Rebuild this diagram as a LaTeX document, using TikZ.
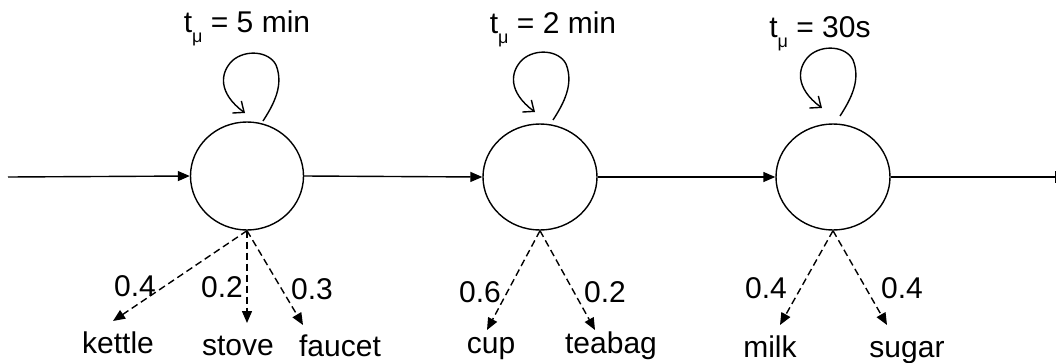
\documentclass[tikz,border=0pt]{standalone}
\usepackage{fontspec}
\setmainfont{Liberation Sans}
\usetikzlibrary{arrows.meta,shapes.geometric}
\newcommand\tmu{t\raisebox{-10pt}{\fontsize{18}{18}\selectfont μ}}
\begin{document}
\begin{tikzpicture}[x=1pt,y=-1pt,
  state/.style={draw,ellipse,line width=1.4pt,inner sep=0pt},
  flow/.style={line width=1.4pt,-{Triangle[length=12pt,width=10pt]}},
  endflow/.style={line width=1.4pt,-{Bar[width=12pt,line width=1.4pt]}},
  prob/.style={line width=1.4pt,dash pattern=on 7pt off 4pt,-{Triangle[length=12pt,width=10pt]}},
  selfloop/.style={line width=1.4pt,-{Straight Barb[length=9pt,width=15pt]}},
  lbl/.style={font=\fontsize{30}{34}\selectfont,inner sep=0pt,anchor=base},
  toplbl/.style={font=\fontsize{30}{34}\selectfont,inner sep=0pt,anchor=base},
]
\useasboundingbox (0,0) rectangle (1057,362);
% states
\node[state,minimum width=113pt,minimum height=108pt] (c1) at (247,176) {};
\node[state,minimum width=114pt,minimum height=106pt] (c2) at (540,177) {};
\node[state,minimum width=114pt,minimum height=106pt] (c3) at (833,177) {};
% main flow
\coordinate (in) at (8,177);
\coordinate (out) at (1056,177);
\draw[flow] (in) -- (c1.west);
\draw[flow] (c1.east) -- (c2.west);
\draw[flow] (c2.east) -- (c3.west);
\draw[endflow] (c3.east) -- (out);
% self loops
\coordinate (s1) at (263,121);
\coordinate (s2) at (553,120);
\coordinate (s3) at (840,116);
\foreach \s in {s1,s2,s3}{
  \begin{scope}[shift={(\s)}]
    \draw[selfloop] (0,0) .. controls (11,-17) and (21,-36) .. (13,-56)
      .. controls (6,-70) and (-18,-72) .. (-31,-60)
      .. controls (-43,-48) and (-45,-28) .. (-18,-8);
  \end{scope}
}
% top labels
\node[toplbl] (m1) at (247,32) {\tmu{} = 5 min};
\node[toplbl] (m2) at (553,33) {\tmu{} = 2 min};
\node[toplbl] (m3) at (820,37) {\tmu{} = 30s};
% dashed resource arrows
\coordinate (k1) at (113,321);
\coordinate (k2) at (247,323);
\coordinate (k3) at (303,325);
\draw[prob] (c1.south) -- (k1);
\draw[prob] (c1.south) -- (k2);
\draw[prob] (c1.south) -- (k3);
\coordinate (k4) at (487,330);
\coordinate (k5) at (595,330);
\draw[prob] (c2.south) -- (k4);
\draw[prob] (c2.south) -- (k5);
\coordinate (k6) at (780,325);
\coordinate (k7) at (887,325);
\draw[prob] (c3.south) -- (k6);
\draw[prob] (c3.south) -- (k7);
% probabilities
\node[lbl] (p1) at (135,296) {0.4};
\node[lbl] (p2) at (222,297) {0.2};
\node[lbl] (p3) at (312,299) {0.3};
\node[lbl] (p4) at (480,302) {0.6};
\node[lbl] (p5) at (605,302) {0.2};
\node[lbl] (p6) at (766,298) {0.4};
\node[lbl] (p7) at (902,298) {0.4};
% resources
\node[lbl] (r1) at (118,353) {kettle};
\node[lbl] (r2) at (238,355) {stove};
\node[lbl] (r3) at (340,356) {faucet};
\node[lbl] (r4) at (491,353) {cup};
\node[lbl] (r5) at (611,353) {teabag};
\node[lbl] (r6) at (770,357) {milk};
\node[lbl] (r7) at (907,357) {sugar};
\end{tikzpicture}
\end{document}
